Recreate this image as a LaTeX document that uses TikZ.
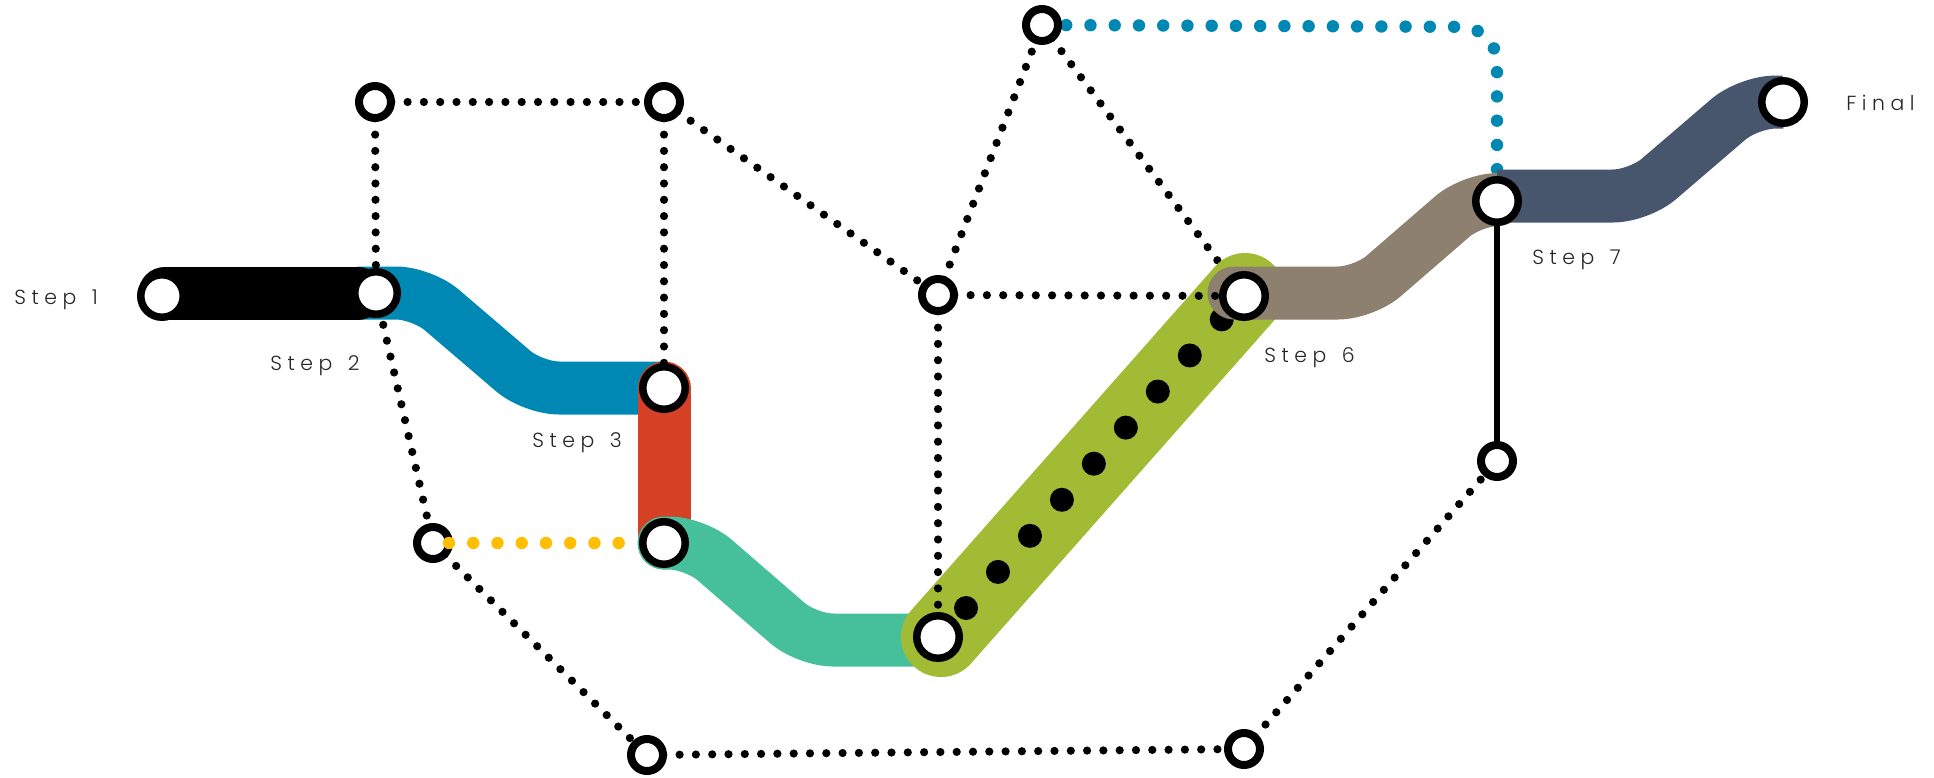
\documentclass[tikz,border=0pt]{standalone}
\usepackage{fontspec}
\setmainfont{Poppins}[UprightFont=* Light,LetterSpace=27,WordSpace=1.4]
\pgfdeclarelayer{bluedots}\pgfdeclarelayer{hidden}\pgfdeclarelayer{bands}\pgfdeclarelayer{dots}\pgfdeclarelayer{top}
\pgfsetlayers{bluedots,hidden,bands,dots,main,top}
\definecolor{cblue}{HTML}{0088B4}
\definecolor{cred}{HTML}{D44125}
\definecolor{cgreen}{HTML}{46C09B}
\definecolor{clime}{HTML}{A1BC34}
\definecolor{ctan}{HTML}{8E806F}
\definecolor{cdark}{HTML}{47566C}
\definecolor{cyellow}{HTML}{FFBF00}
\tikzset{
  bigstop/.style={circle,draw=black,fill=white,line width=3.75pt,minimum size=21.25pt,inner sep=0pt},
  smallstop/.style={circle,draw=black,fill=white,line width=4pt,minimum size=16pt,inner sep=0pt},
  band/.style={line width=26.5pt,line join=round,rounded corners=13pt},
  thinrun/.style={black,line width=4.1pt,line cap=round,dash pattern=on 0pt off 8.15pt},
  bigrun/.style={line width=6.2pt,line cap=round,dash pattern=on 0pt off 12.12pt},
  lbl/.style={anchor=west,inner sep=0pt,font=\fontsize{10.2pt}{12pt}\selectfont,text=black!85}
}
\begin{document}
\begin{tikzpicture}[x=0.5pt,y=-0.5pt]
\useasboundingbox (0,0) rectangle (1934,777);
% stops
\node[bigstop] (s1) at (162,296) {};
\node[bigstop] (s2) at (376,293) {};
\node[bigstop] (s3) at (664,388) {};
\node[bigstop] (s4) at (664,543) {};
\node[bigstop] (s5) at (938,637) {};
\node[bigstop] (s6) at (1244,296) {};
\node[bigstop] (s7) at (1497,201) {};
\node[bigstop] (s8) at (1783,102) {};
\node[smallstop] (n1) at (375,102) {};
\node[smallstop] (n2) at (664,102) {};
\node[smallstop] (n3) at (433,543) {};
\node[smallstop] (n4) at (647,755) {};
\node[smallstop] (n5) at (938,295) {};
\node[smallstop] (n6) at (1042,25) {};
\node[smallstop] (n7) at (1244,749) {};
\node[smallstop] (n8) at (1497,461) {};
% free ends
\coordinate (kA) at (165,293);
\coordinate (kB) at (358,293);
\coordinate (bA) at (357,293);
\coordinate (gB) at (938,640);
\coordinate (lA) at (941,637);
\coordinate (lB) at (1245,293);
\coordinate (dA) at (966,608);
\coordinate (dB) at (1222.5,318.5);
\coordinate (tA) at (1234,293);
\coordinate (tB) at (1497,199.5);
\coordinate (uA) at (1497,196);
\coordinate (yA) at (449,543);
\coordinate (yB) at (620,543);
\begin{pgfonlayer}{bluedots}
\draw[bigrun,cblue,rounded corners=18pt] (n6.center) -- (1497,27) -- (s7.center);
\end{pgfonlayer}
\begin{pgfonlayer}{hidden}
\draw[thinrun] (n6.center) -- (s6.center);
\end{pgfonlayer}
\begin{pgfonlayer}{bands}
\draw[band,cblue] (bA) -- (422,293) -- (533,388) -- (s3.center);
\draw[band,cred,line cap=round] (s3.center) -- (s4.center);
\draw[band,cgreen,line cap=round] (s4.center) -- (695,543) -- (807,640) -- (gB);
\draw[black,line width=26.5pt,line cap=round] (kA) -- (kB);
\draw[clime,line width=40pt,line cap=round] (lA) -- (lB);
\draw[black,line width=12pt,line cap=round,dash pattern=on 0pt off 24.1pt] (dA) -- (dB);
\draw[band,ctan,line cap=round] (tA) -- (1364,293) -- (1472,199.5) -- (tB);
\draw[band,cdark] (uA) -- (1639,196) -- (1748,102.5) -- (s8.center);
\end{pgfonlayer}
\begin{pgfonlayer}{dots}
\draw[thinrun] (n1.center) -- (n2.center);
\draw[thinrun] (n1.center) -- (s2.center);
\draw[thinrun] (n2.center) -- (s3.center);
\draw[thinrun] (n2.center) -- (n5.center);
\draw[thinrun] (n5.center) -- (n6.center);
\draw[thinrun] (n5.center) -- (s6.center);
\draw[thinrun] (n5.center) -- (s5.center);
\draw[thinrun] (s2.center) -- (n3.center);
\draw[thinrun] (n3.center) -- (n4.center);
\draw[thinrun] (n4.center) -- (n7.center);
\draw[thinrun] (n7.center) -- (n8.center);
\draw[black,line width=3pt] (s7.center) -- (n8.center);
\end{pgfonlayer}
\begin{pgfonlayer}{top}
\draw[bigrun,cyellow] (yA) -- (yB);
\end{pgfonlayer}
% labels
\node[lbl] (t1) at (14,300) {Step 1};
\node[lbl] (t2) at (270,366) {Step 2};
\node[lbl] (t3) at (532,443) {Step 3};
\node[lbl] (t6) at (1264,358) {Step 6};
\node[lbl] (t7) at (1532,260) {Step 7};
\node[lbl] (t8) at (1846,103) {Final};
\end{tikzpicture}
\end{document}
